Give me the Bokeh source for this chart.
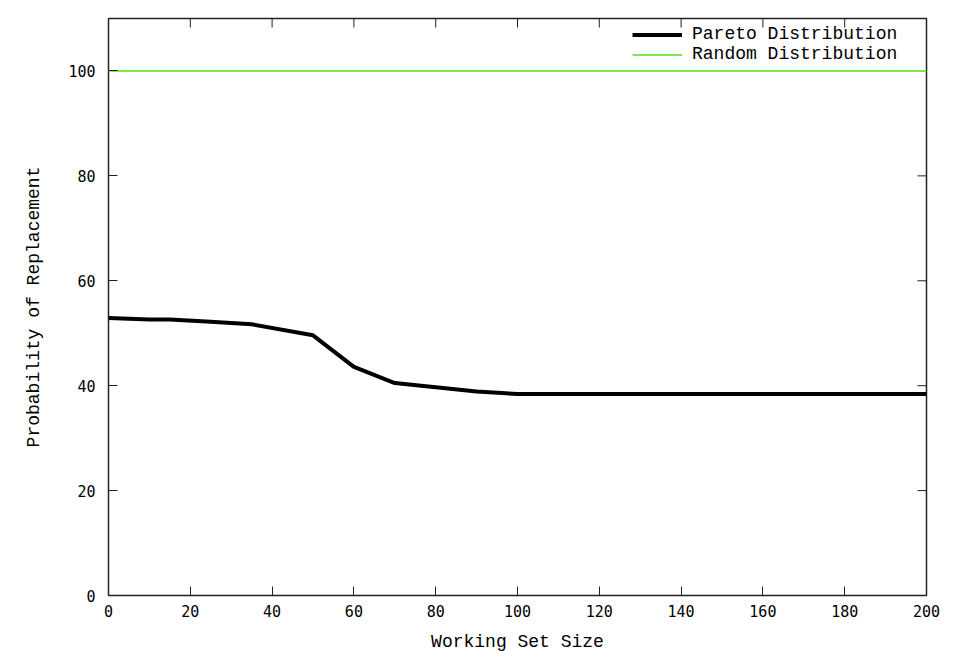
import math
from bokeh.plotting import figure
from bokeh.models import Range1d, FixedTicker, Legend, LegendItem
from bokeh.embed import file_html
from bokeh.resources import INLINE

# data
pareto_x = [0, 10, 15, 25, 35, 50, 60, 70, 80, 90, 100, 120, 140, 160, 180, 200]
pareto_y = [52.9, 52.6, 52.6, 52.2, 51.7, 49.6, 43.6, 40.5, 39.7, 38.9, 38.4,
            38.4, 38.4, 38.4, 38.4, 38.4]
random_x = [0, 200]
random_y = [100, 100]
x_ticks = [0, 20, 40, 60, 80, 100, 120, 140, 160, 180, 200]
y_ticks = [0, 20, 40, 60, 80, 100]
X_MIN, X_MAX = 0, 200
Y_MIN, Y_MAX = 0, 110

TICK_FONT = "DejaVu Sans Mono"
LABEL_FONT = "Liberation Mono"
FRAME = "#222222"

p = figure(width=948, height=654, output_backend="svg", toolbar_location=None,
           x_range=Range1d(X_MIN, X_MAX), y_range=Range1d(Y_MIN, Y_MAX),
           min_border_left=108, min_border_right=22, min_border_top=18,
           min_border_bottom=58)
p.grid.visible = False
p.outline_line_color = FRAME
p.outline_line_width = 1.5

for ax in (p.xaxis[0], p.yaxis[0]):
    ax.major_tick_in = 9
    ax.major_tick_out = 0
    ax.minor_tick_line_color = None
    ax.axis_line_color = None
    ax.major_tick_line_color = FRAME
    ax.major_label_text_font = TICK_FONT
    ax.major_label_text_font_size = "15px"
    ax.major_label_text_color = "black"
    ax.axis_label_text_font = LABEL_FONT
    ax.axis_label_text_font_size = "18px"
    ax.axis_label_text_font_style = "normal"
    ax.axis_label_text_color = "black"

p.xaxis[0].ticker = FixedTicker(ticks=x_ticks)
p.yaxis[0].ticker = FixedTicker(ticks=y_ticks)
p.xaxis[0].axis_label = "Working Set Size"
p.yaxis[0].axis_label = "Probability of Replacement"
p.xaxis[0].major_label_standoff = 9
p.yaxis[0].major_label_standoff = 13
p.xaxis[0].axis_label_standoff = 12
p.yaxis[0].axis_label_standoff = 21

# mirrored ticks on top and right (inward, 9 px long)
p.ray(x=x_ticks, y=[Y_MAX] * len(x_ticks), length=9, length_units="screen",
      angle=-math.pi / 2, line_color=FRAME, line_width=1)
p.ray(x=[X_MAX] * len(y_ticks), y=y_ticks, length=9, length_units="screen",
      angle=math.pi, line_color=FRAME, line_width=1)

r1 = p.line(pareto_x, pareto_y, line_color="black", line_width=4)
r2 = p.line(random_x, random_y, line_color="#7fe650", line_width=2)

legend = Legend(items=[LegendItem(label="Pareto Distribution", renderers=[r1]),
                       LegendItem(label="Random Distribution", renderers=[r2])],
                location=(524, 531), background_fill_alpha=0, border_line_color=None,
                label_text_font=LABEL_FONT, label_text_font_size="18px",
                label_text_color="black", label_standoff=10,
                glyph_width=50, glyph_height=17, label_height=17, spacing=0,
                padding=0, margin=0)
p.add_layout(legend, "center")

open("out.html", "w").write(file_html(p, INLINE))
